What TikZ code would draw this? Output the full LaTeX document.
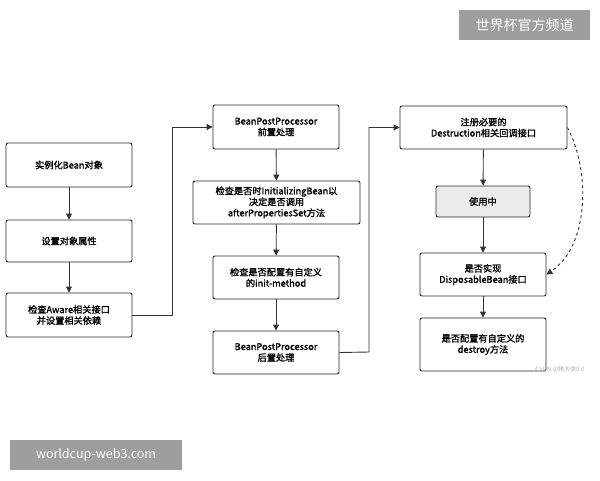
\documentclass[tikz,border=0pt]{standalone}
\usepackage{fontspec}
\setmainfont{Noto Sans CJK SC}
\newfontfamily\cjkb{Noto Sans CJK SC}[FakeBold=1.5]
\usetikzlibrary{arrows.meta}
\begin{document}
\begin{tikzpicture}[x=1pt,y=-1pt,
  bx/.style={draw=black!85,line width=0.9pt,rounded corners=2pt,align=center,font=\cjkb\fontsize{9.2}{11}\selectfont,inner sep=0pt},
  ar/.style={-{Triangle[length=6pt,width=6pt]},line width=0.9pt,black!80}]
\useasboundingbox (0,0) rectangle (600,480);
\fill[white] (0,0) rectangle (600,480);
\newcommand\bxat[6]{\node[bx,#6,minimum width=#3-#1,minimum height=#4-#2] (#5) at ({(#1+#3)/2},{(#2+#4)/2})}
\bxat{6}{143}{132}{187}{a}{}{实例化Bean对象};
\bxat{6}{220}{132}{262}{b}{}{设置对象属性};
\bxat{6}{293}{132}{337}{c}{}{检查Aware相关接口\\并设置相关依赖};
\bxat{213}{105}{339}{149}{d}{}{BeanPostProcessor\\前置处理};
\bxat{193}{181}{360}{224}{e}{}{检查是否时InitializingBean以\\决定是否调用\\afterPropertiesSet方法};
\bxat{213}{256}{339}{299}{f}{}{检查是否配置有自定义\\的init-method};
\bxat{213}{331}{339}{374}{g}{}{BeanPostProcessor\\后置处理};
\bxat{400}{106}{567}{149}{h}{}{注册必要的\\Destruction相关回调接口};
\bxat{436}{186}{530}{217}{i}{fill=black!8}{使用中};
\bxat{420}{253}{546}{296}{j}{}{是否实现\\DisposableBean接口};
\bxat{420}{318}{546}{371}{k}{}{是否配置有自定义的\\destroy方法};
\draw[ar] (a) -- (b);
\draw[ar] (b) -- (c);
\draw[ar] (c.east) -- (172,315) |- (d.west);
\draw[ar] (d) -- (e);
\draw[ar] (e) -- (f);
\draw[ar] (f) -- (g);
\draw[ar] (g.east) -- (369,352) |- (h.west);
\draw[ar] (h) -- (i);
\draw[ar] (i) -- (j);
\draw[ar] (j) -- (k);
\draw[ar,dashed] (h.east) .. controls (590,170) and (590,245) .. (j.east);
\node[fill=black!38,text=white,minimum width=131pt,minimum height=30pt,inner sep=0pt,font=\fontsize{14}{16}\selectfont] (wm1) at (524.5,25) {世界杯官方频道};
\node[fill=black!38,text=white,minimum width=172pt,minimum height=30pt,inner sep=0pt,font=\fontsize{12.5}{15}\selectfont] (wm2) at (96,455) {worldcup-web3.com};
\node[text=black!30,font=\fontsize{6}{7}\selectfont,inner sep=0pt] (csdn) at (560,369) {CSDN @猪大侠0.0};
\end{tikzpicture}
\end{document}
